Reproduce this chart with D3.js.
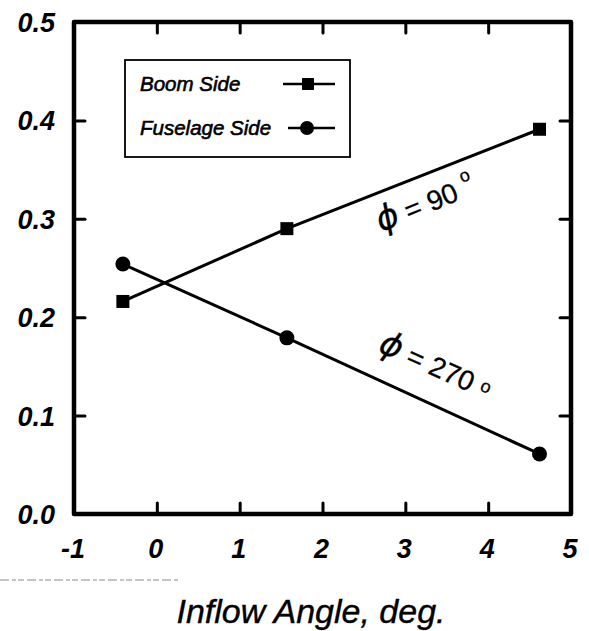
<!DOCTYPE html>
<html>
<head>
<meta charset="utf-8">
<script src="https://cdn.jsdelivr.net/npm/d3@7"></script>
<style>
  html, body { margin: 0; padding: 0; background: #fff; }
  svg { display: block; }
</style>
</head>
<body>
<svg id="chart" width="589" height="631"></svg>
<script>
// Inflow angle (deg) at which each side was measured
const inflowAngle = [-0.41, 1.57, 4.62];
// Measured values for each side
const boomSide = [0.216, 0.290, 0.391];
const fuselageSide = [0.254, 0.179, 0.061];
// Axis ticks
const xTicks = [-1, 0, 1, 2, 3, 4, 5];
const yTicks = [0.0, 0.1, 0.2, 0.3, 0.4, 0.5];
const xLabel = "Inflow Angle, deg.";
const seriesNames = ["Boom Side", "Fuselage Side"];

const svg = d3.select("#chart");
const frame = { left: 74, right: 571, top: 22, bottom: 514 };

const x = d3.scaleLinear().domain([-1, 5]).range([frame.left, frame.right]);
const y = d3.scaleLinear().domain([0, 0.5]).range([frame.bottom, frame.top]);

const tickFont = "'Liberation Sans', Arial, Helvetica, sans-serif";

// Faint dashed rule under the axis
svg.append("line")
  .attr("x1", 0).attr("x2", 180).attr("y1", 580).attr("y2", 580)
  .attr("stroke", "#8a8a8a").attr("stroke-width", 1)
  .attr("stroke-dasharray", "9,3,4,2,6,3");

// Inward ticks on all four sides (interior ticks only)
const innerX = xTicks.slice(1, -1);
const innerY = yTicks.slice(1, -1);
const tickLen = 11;

const bottomAxis = d3.axisTop(x).tickValues(innerX).tickSize(tickLen).tickFormat("");
const topAxis = d3.axisBottom(x).tickValues(innerX).tickSize(tickLen).tickFormat("");
const leftAxis = d3.axisRight(y).tickValues(innerY).tickSize(tickLen).tickFormat("");
const rightAxis = d3.axisLeft(y).tickValues(innerY).tickSize(tickLen).tickFormat("");

function styleTicks(g) {
  g.select(".domain").remove();
  g.selectAll(".tick line").attr("stroke", "#000").attr("stroke-width", 3)
    .attr("stroke-linecap", "round");
}
svg.append("g").attr("transform", `translate(0,${frame.bottom})`).call(bottomAxis).call(styleTicks);
svg.append("g").attr("transform", `translate(0,${frame.top})`).call(topAxis).call(styleTicks);
svg.append("g").attr("transform", `translate(${frame.left},0)`).call(leftAxis).call(styleTicks);
svg.append("g").attr("transform", `translate(${frame.right},0)`).call(rightAxis).call(styleTicks);

// Plot frame
svg.append("rect")
  .attr("x", frame.left).attr("y", frame.top)
  .attr("width", frame.right - frame.left).attr("height", frame.bottom - frame.top)
  .attr("fill", "none").attr("stroke", "#000").attr("stroke-width", 4.5)
  .attr("stroke-linejoin", "round");

// Tick labels (bold oblique)
svg.append("g").selectAll("text").data(xTicks).join("text")
  .attr("x", d => x(d) - 1).attr("y", 558)
  .attr("text-anchor", "middle")
  .attr("font-family", tickFont).attr("font-size", 27)
  .attr("font-weight", "bold").attr("font-style", "italic")
  .text(d => d);

svg.append("g").selectAll("text").data(yTicks).join("text")
  .attr("x", 55).attr("y", d => y(d) + 10)
  .attr("text-anchor", "end")
  .attr("font-family", tickFont).attr("font-size", 27)
  .attr("font-weight", "bold").attr("font-style", "italic")
  .text(d => d.toFixed(1));

// Axis title
svg.append("text")
  .attr("x", 311).attr("y", 623)
  .attr("text-anchor", "middle")
  .attr("font-family", tickFont).attr("font-size", 34)
  .attr("font-style", "italic")
  .attr("stroke", "#000").attr("stroke-width", 0.4)
  .text(xLabel);

// Data lines
const line = d3.line().x(d => x(d[0])).y(d => y(d[1]));
const boomPts = inflowAngle.map((a, i) => [a, boomSide[i]]);
const fusePts = inflowAngle.map((a, i) => [a, fuselageSide[i]]);

[boomPts, fusePts].forEach(pts => {
  svg.append("path").datum(pts).attr("d", line)
    .attr("fill", "none").attr("stroke", "#000").attr("stroke-width", 3);
});

const sq = 13;
svg.append("g").selectAll("rect").data(boomPts).join("rect")
  .attr("x", d => x(d[0]) - sq / 2).attr("y", d => y(d[1]) - sq / 2)
  .attr("width", sq).attr("height", sq).attr("fill", "#000");

svg.append("g").selectAll("circle").data(fusePts).join("circle")
  .attr("cx", d => x(d[0])).attr("cy", d => y(d[1])).attr("r", 7.5)
  .attr("fill", "#000");

// Legend
const legend = svg.append("g");
legend.append("rect")
  .attr("x", 125).attr("y", 60).attr("width", 225).attr("height", 97)
  .attr("fill", "#fff").attr("stroke", "#000").attr("stroke-width", 1.8);

const legendRows = [
  { name: seriesNames[0], cy: 84, marker: "square" },
  { name: seriesNames[1], cy: 128, marker: "circle" }
];
legendRows.forEach(r => {
  legend.append("text")
    .attr("x", 140).attr("y", r.cy + 7)
    .attr("font-family", tickFont).attr("font-size", 20.5)
    .attr("font-style", "italic")
    .attr("stroke", "#000").attr("stroke-width", 0.6)
    .text(r.name);
  legend.append("line")
    .attr("x1", r.marker === "square" ? 283 : 288).attr("x2", 335)
    .attr("y1", r.cy).attr("y2", r.cy)
    .attr("stroke", "#000").attr("stroke-width", 2.5);
  if (r.marker === "square") {
    legend.append("rect").attr("x", 308 - 6).attr("y", r.cy - 6)
      .attr("width", 12).attr("height", 12).attr("fill", "#000");
  } else {
    legend.append("circle").attr("cx", 307).attr("cy", r.cy).attr("r", 7)
      .attr("fill", "#000");
  }
});

// Angle annotations along each line
const ann1 = svg.append("text")
  .attr("transform", "translate(381,232) rotate(-22)")
  .attr("font-family", tickFont).attr("font-size", 28)
  .attr("stroke", "#000").attr("stroke-width", 0.3);
ann1.append("tspan").attr("font-style", "italic").attr("font-size", 34)
  .attr("font-family", "'DejaVu Sans', sans-serif").text("\u03D5");
ann1.append("tspan").text(" = 90");
ann1.append("tspan").attr("dx", 8).attr("dy", -15).attr("font-size", 18).text("o");

const ann2 = svg.append("text")
  .attr("transform", "translate(377,351) rotate(24)")
  .attr("font-family", tickFont).attr("font-size", 28)
  .attr("stroke", "#000").attr("stroke-width", 0.3);
ann2.append("tspan").attr("font-style", "italic").attr("font-size", 34)
  .attr("font-family", "'DejaVu Sans', sans-serif").text("\u03D5");
ann2.append("tspan").text(" = 270");
ann2.append("tspan").attr("dx", 8).attr("dy", -6).attr("font-size", 18).text("o");
</script>
</body>
</html>
